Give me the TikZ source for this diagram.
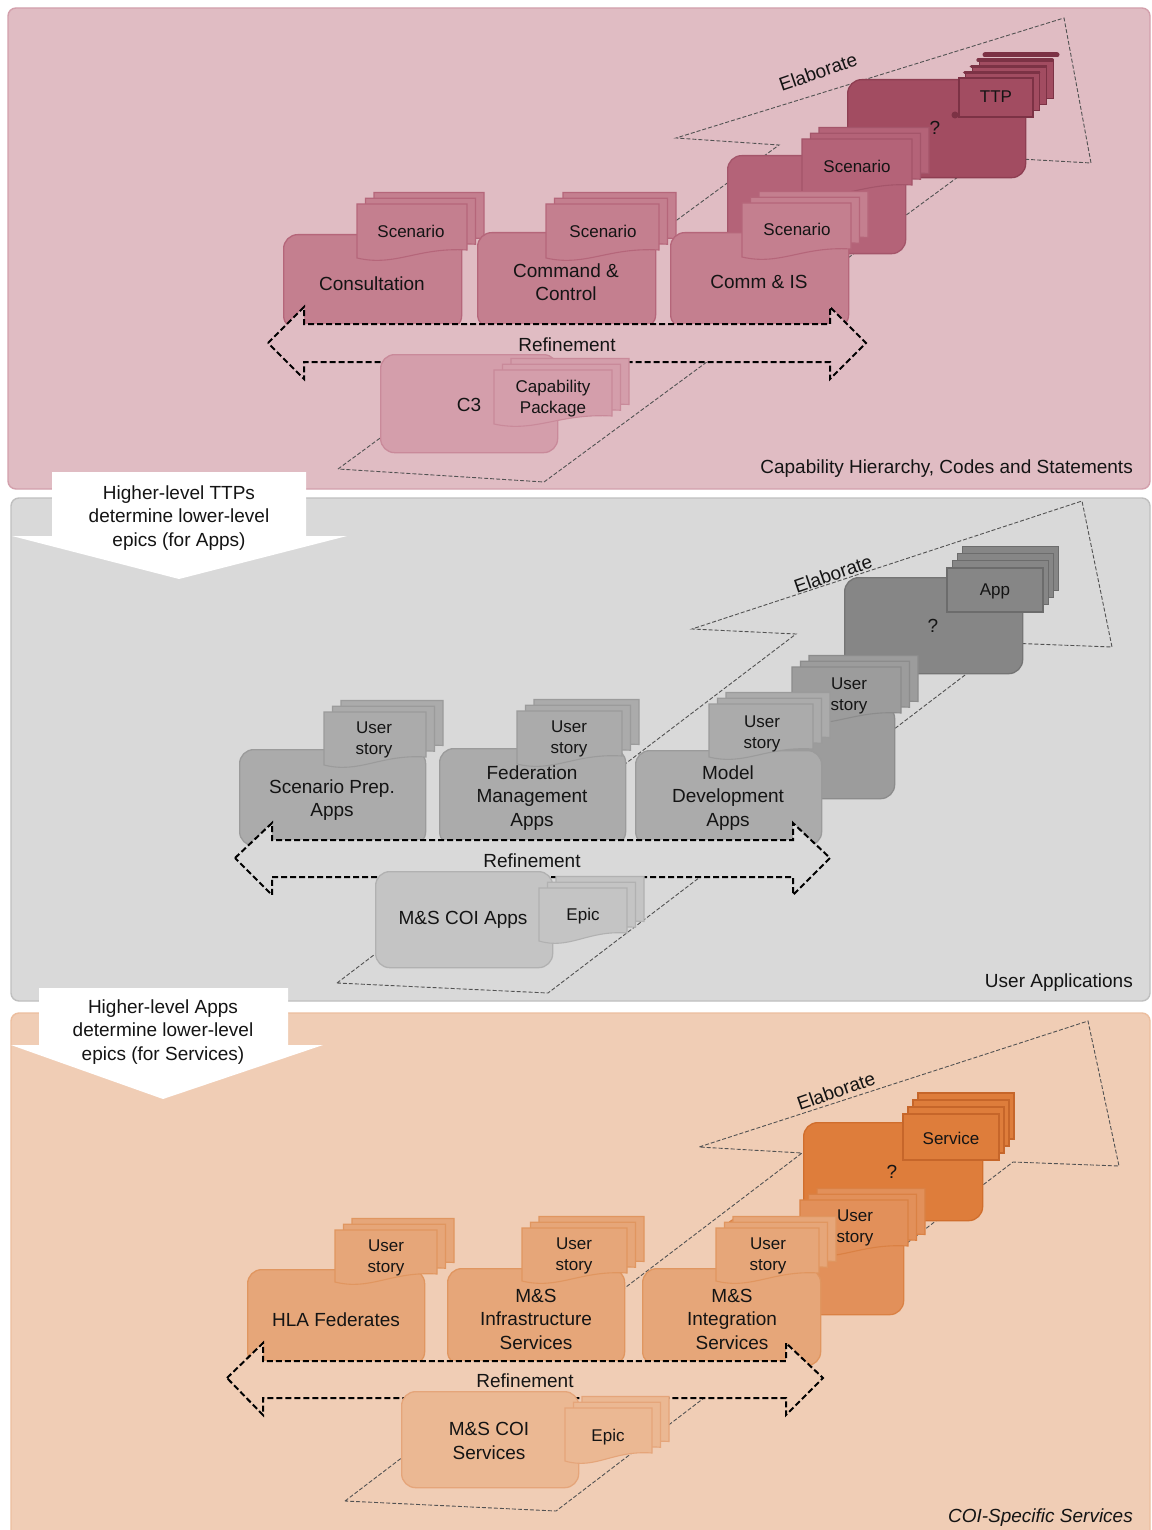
\documentclass[tikz,border=0pt]{standalone}
\usepackage{fontspec}
\setmainfont{Liberation Sans}

% capability layer
\definecolor{p1bg}{HTML}{E0BCC3}\definecolor{p1bgedge}{HTML}{D3A0AC}
\definecolor{p1row}{HTML}{C47F8F}\definecolor{p1rowedge}{HTML}{B5667A}
\definecolor{p1mid}{HTML}{B46378}\definecolor{p1midedge}{HTML}{A4556A}
\definecolor{p1top}{HTML}{A24C61}\definecolor{p1topedge}{HTML}{8E3E52}
\definecolor{p1low}{HTML}{D49EAB}\definecolor{p1lowedge}{HTML}{C98A9A}
\definecolor{p1card}{HTML}{A24C61}\definecolor{p1cardedge}{HTML}{7C3245}
% application layer
\definecolor{p2bg}{HTML}{D9D9D9}\definecolor{p2bgedge}{HTML}{BFBFBF}
\definecolor{p2row}{HTML}{ABABAB}\definecolor{p2rowedge}{HTML}{9B9B9B}
\definecolor{p2mid}{HTML}{9C9C9C}\definecolor{p2midedge}{HTML}{8C8C8C}
\definecolor{p2top}{HTML}{868686}\definecolor{p2topedge}{HTML}{747474}
\definecolor{p2low}{HTML}{C4C4C4}\definecolor{p2lowedge}{HTML}{B1B1B1}
\definecolor{p2card}{HTML}{868686}\definecolor{p2cardedge}{HTML}{6C6C6C}
% service layer
\definecolor{p3bg}{HTML}{F0CDB5}\definecolor{p3bgedge}{HTML}{ECBE9F}
\definecolor{p3row}{HTML}{E6A679}\definecolor{p3rowedge}{HTML}{E09660}
\definecolor{p3mid}{HTML}{E2905A}\definecolor{p3midedge}{HTML}{DA8144}
\definecolor{p3top}{HTML}{DE7D3B}\definecolor{p3topedge}{HTML}{D06E2D}
\definecolor{p3low}{HTML}{EBB893}\definecolor{p3lowedge}{HTML}{E5A57A}
\definecolor{p3card}{HTML}{DE7D3B}\definecolor{p3cardedge}{HTML}{C6662A}

\tikzset{
  lbl/.style={font=\fontsize{19}{23.5}\selectfont, text=black!92, align=center, inner sep=0pt},
  lblsm/.style={font=\fontsize{17}{21}\selectfont, text=black!92, align=center, inner sep=0pt},
  bx/.style={rounded corners=14pt, line width=1.3pt, inner sep=0pt, anchor=north west},
  panel/.style={rounded corners=8pt, line width=1.4pt},
  elab/.style={draw=black!68, line width=0.9pt, dash pattern=on 4pt off 2pt},
  refine/.style={draw=black, line width=2pt, dash pattern=on 6pt off 3pt, line join=miter},
  p1rowdoc/.style={fill=p1row, draw=p1rowedge, line width=1.1pt},
  p1middoc/.style={fill=p1mid, draw=p1midedge, line width=1.1pt},
  p1lowdoc/.style={fill=p1low, draw=p1lowedge, line width=1.1pt},
  p2rowdoc/.style={fill=p2row, draw=p2rowedge, line width=1.1pt},
  p2middoc/.style={fill=p2mid, draw=p2midedge, line width=1.1pt},
  p2lowdoc/.style={fill=p2low, draw=p2lowedge, line width=1.1pt},
  p3rowdoc/.style={fill=p3row, draw=p3rowedge, line width=1.1pt},
  p3middoc/.style={fill=p3mid, draw=p3midedge, line width=1.1pt},
  p3lowdoc/.style={fill=p3low, draw=p3lowedge, line width=1.1pt},
  pics/sheet/.style n args={3}{code={
    \path[#3] (0,0) -- ({#1},0) -- ({#1},{#2-10})
      .. controls ({0.55*#1},{#2-13}) and ({0.35*#1},{#2+7}) .. (0,{#2-2}) -- cycle;}},
}

% three stacked sheets, back to front: x, y, width, height, style
\newcommand\sheets[5]{%
  \pic at ({#1+17},{#2-11.5}) {sheet={#3}{#4}{#5}};
  \pic at ({#1+8.5},{#2-5.75}) {sheet={#3}{#4}{#5}};
  \pic at (#1,#2) {sheet={#3}{#4}{#5}};}

\begin{document}
\begin{tikzpicture}[x=1pt, y=-1pt]
\clip (0,0) rectangle (1151,1530);
\fill[white] (0,0) rectangle (1151,1530);

%% ---------------- Capability hierarchy ----------------
\path[panel, fill=p1bg, draw=p1bgedge] (8,8) rectangle (1150,489);
\draw[elab] (338,469) -- (779,145) -- (676,138) -- (1064,18) -- (1091,163) -- (985,157) -- (544,482) -- cycle;

\node[bx, fill=p1top, draw=p1topedge, minimum width=178pt, minimum height=98pt] (p1q) at (847,79) {};
\draw[p1cardedge, line width=5pt, line cap=round] (985,55) -- (1057,55);
\foreach \k in {3,2,1}{
  \path[fill=p1card, draw=p1cardedge, line width=1.1pt] ({959+6.7*\k},{78-6.3*\k}) rectangle +(74,39);
  \draw[p1cardedge, line width=3.5pt, line cap=round] ({958+6.7*\k},{79-6.3*\k}) -- +(74,0);
}
\path[fill=p1card, draw=p1cardedge, line width=1.1pt] (959,78) rectangle +(74,39);
\fill[p1cardedge] (955,115) circle (3.5);
\node[lbl] (p1qtxt) at (935,128) {?};
\node[lblsm] (p1ttp) at (996,97) {TTP};

\node[bx, fill=p1mid, draw=p1midedge, minimum width=178pt, minimum height=98pt] (p1midbox) at (727,155) {};
\sheets{802}{139}{110}{56}{p1middoc}
\node[lblsm] (p1midtxt) at (857,166) {Scenario};

\node[bx, fill=p1row, draw=p1rowedge, minimum width=178pt, minimum height=95pt] (p1cons) at (283,234) {};
\sheets{357}{204}{110}{56}{p1rowdoc}
\node[lblsm] (p1consdoc) at (411,231) {Scenario};
\node[lbl] (p1constxt) at (372,284) {Consultation};

\node[bx, fill=p1row, draw=p1rowedge, minimum width=178pt, minimum height=96pt] (p1cc) at (477,232) {};
\sheets{546}{204}{113}{56}{p1rowdoc}
\node[lblsm] (p1ccdoc) at (603,231) {Scenario};
\node[lbl] (p1cctxt) at (566,282) {Command \&\\Control};

\node[bx, fill=p1row, draw=p1rowedge, minimum width=178pt, minimum height=96pt] (p1cis) at (670,232) {};
\sheets{742}{203}{109}{56}{p1rowdoc}
\node[lblsm] (p1cisdoc) at (797,229) {Scenario};
\node[lbl] (p1cistxt) at (759,282) {Comm \& IS};

\draw[refine, fill=p1bg] (268,343) -- (304,307) -- (304,324) -- (830,324) -- (830,307) -- (866,343)
  -- (830,379) -- (830,362) -- (304,362) -- (304,379) -- cycle;
\node[lbl] (p1ref) at (567,345) {Refinement};

\node[bx, fill=p1low, draw=p1lowedge, minimum width=177pt, minimum height=98pt] (p1c3) at (380,354) {};
\sheets{494}{370}{118}{56}{p1lowdoc}
\node[lbl] (p1c3txt) at (469,405) {C3};
\node[lblsm] (p1cap) at (553,399) {Capability\\Package};

\node[lbl, rotate=19] (p1elab) at (818,72) {Elaborate};
\node[lbl, anchor=east] (p1title) at (1133,469) {Capability Hierarchy, Codes and Statements};

%% ---------------- User applications ----------------
\path[panel, fill=p2bg, draw=p2bgedge] (11,498) rectangle (1150,1001);
\draw[elab] (337,983) -- (796,634) -- (692,629) -- (1082,501) -- (1112,647) -- (1007,643) -- (548,993) -- cycle;

\node[bx, fill=p2top, draw=p2topedge, minimum width=178pt, minimum height=96pt] (p2q) at (844,577) {};
\foreach \k in {3,2,1,0}{
  \path[fill=p2card, draw=p2cardedge, line width=1.1pt] ({947+5.3*\k},{568-7.3*\k}) rectangle +(96,44);
}
\node[lbl] (p2qtxt) at (933,626) {?};
\node[lblsm] (p2app) at (995,591) {App};

\node[bx, fill=p2mid, draw=p2midedge, minimum width=178pt, minimum height=94pt] (p2midbox) at (716,704) {};
\sheets{792}{667}{109}{56}{p2middoc}
\node[lblsm] (p2midtxt) at (849,696) {User\\story};

\node[bx, fill=p2row, draw=p2rowedge, minimum width=186pt, minimum height=96pt] (p2prep) at (239,749) {};
\sheets{324}{712}{102}{55}{p2rowdoc}
\node[lblsm] (p2prepdoc) at (374,740) {User\\story};
\node[lbl] (p2preptxt) at (332,800) {Scenario Prep.\\Apps};

\node[bx, fill=p2row, draw=p2rowedge, minimum width=186pt, minimum height=97pt] (p2fed) at (439,748) {};
\sheets{517}{711}{105}{55}{p2rowdoc}
\node[lblsm] (p2feddoc) at (569,739) {User\\story};
\node[lbl] (p2fedtxt) at (532,798) {Federation\\Management\\Apps};

\node[bx, fill=p2row, draw=p2rowedge, minimum width=186pt, minimum height=95pt] (p2mod) at (635,750) {};
\sheets{709}{704}{104}{55}{p2rowdoc}
\node[lblsm] (p2moddoc) at (762,734) {User\\story};
\node[lbl] (p2modtxt) at (728,798) {Model\\Development\\Apps};

\draw[refine, fill=p2bg] (235,858) -- (272,823) -- (272,840) -- (793,840) -- (793,823) -- (830,858)
  -- (793,895) -- (793,877) -- (272,877) -- (272,895) -- cycle;
\node[lbl] (p2ref) at (532,861) {Refinement};

\node[bx, fill=p2low, draw=p2lowedge, minimum width=177pt, minimum height=96pt] (p2coi) at (375,871) {};
\sheets{539}{888}{88}{55}{p2lowdoc}
\node[lbl] (p2coitxt) at (463,920) {M\&S COI Apps};
\node[lblsm] (p2epic) at (583,916) {Epic};

\node[lbl, rotate=19] (p2elab) at (833,574) {Elaborate};
\node[lbl, anchor=east] (p2title) at (1133,983) {User Applications};

%% ---------------- COI-specific services ----------------
\path[panel, fill=p3bg, draw=p3bgedge] (11,1013) rectangle (1150,1550);
\draw[elab] (345,1501) -- (802,1153) -- (699,1147) -- (1088,1021) -- (1119,1166) -- (1013,1162) -- (556,1511) -- cycle;

\node[bx, fill=p3top, draw=p3topedge, minimum width=179pt, minimum height=98pt] (p3q) at (803,1122) {};
\foreach \k in {3,2,1,0}{
  \path[fill=p3card, draw=p3cardedge, line width=1.1pt] ({903+5*\k},{1114-7*\k}) rectangle +(96,46);
}
\node[lbl] (p3qtxt) at (892,1172) {?};
\node[lblsm] (p3svc) at (951,1138) {Service};

\node[bx, fill=p3mid, draw=p3midedge, minimum width=178pt, minimum height=97pt] (p3midbox) at (725,1217) {};
\sheets{800}{1200}{108}{56}{p3middoc}
\node[lblsm] (p3midtxt) at (855,1228) {User\\story};

\node[bx, fill=p3row, draw=p3rowedge, minimum width=177pt, minimum height=96pt] (p3hla) at (247,1269) {};
\sheets{335}{1230}{102}{54}{p3rowdoc}
\node[lblsm] (p3hladoc) at (386,1258) {User\\story};
\node[lbl] (p3hlatxt) at (336,1320) {HLA Federates};

\node[bx, fill=p3row, draw=p3rowedge, minimum width=177pt, minimum height=97pt] (p3inf) at (447,1268) {};
\sheets{522}{1228}{105}{55}{p3rowdoc}
\node[lblsm] (p3infdoc) at (574,1256) {User\\story};
\node[lbl] (p3inftxt) at (536,1319) {M\&S\\Infrastructure\\Services};

\node[bx, fill=p3row, draw=p3rowedge, minimum width=178pt, minimum height=97pt] (p3int) at (642,1268) {};
\sheets{716}{1228}{103}{55}{p3rowdoc}
\node[lblsm] (p3intdoc) at (768,1256) {User\\story};
\node[lbl] (p3inttxt) at (732,1319) {M\&S\\Integration\\Services};

\draw[refine, fill=p3bg] (227,1378) -- (263,1343) -- (263,1361) -- (786,1361) -- (786,1343) -- (823,1378)
  -- (786,1415) -- (786,1398) -- (263,1398) -- (263,1415) -- cycle;
\node[lbl] (p3ref) at (525,1381) {Refinement};

\node[bx, fill=p3low, draw=p3lowedge, minimum width=177pt, minimum height=96pt] (p3coi) at (401,1391) {};
\sheets{565}{1408}{87}{55}{p3lowdoc}
\node[lbl] (p3coitxt) at (489,1441) {M\&S COI\\Services};
\node[lblsm] (p3epic) at (608,1437) {Epic};

\node[lbl, rotate=19] (p3elab) at (836,1091) {Elaborate};
\node[lbl, anchor=east, font=\fontsize{19}{23}\selectfont\itshape] (p3title) at (1133,1518) {COI-Specific Services};

%% ---------------- hand-over callouts between layers ----------------
\path[fill=white] (52,472) -- (306,472) -- (306,536) -- (347,536) -- (179,579) -- (12,536) -- (52,536) -- cycle;
\node[lbl] (call1) at (179,518) {Higher-level TTPs\\determine lower-level\\epics (for Apps)};

\path[fill=white] (39,988) -- (288,988) -- (288,1045) -- (323,1045) -- (163,1099) -- (11,1045) -- (39,1045) -- cycle;
\node[lbl] (call2) at (163,1032) {Higher-level Apps\\determine lower-level\\epics (for Services)};
\end{tikzpicture}
\end{document}
